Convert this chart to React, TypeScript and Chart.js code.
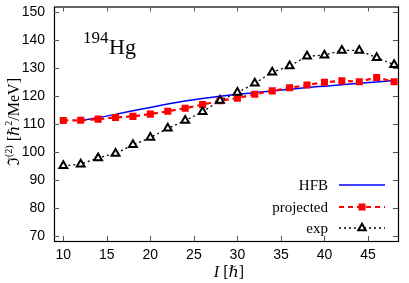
import React, { useEffect, useRef } from "react";
import { Chart, registerables } from "chart.js";

Chart.register(...registerables);

const spins = [10, 12, 14, 16, 18, 20, 22, 24, 26, 28, 30, 32, 34, 36, 38, 40, 42, 44, 46, 48];
const projected = [111.3, 111.4, 111.8, 112.4, 112.8, 113.6, 114.6, 115.7, 117.0, 118.4, 119.3, 120.7, 121.9, 123.0, 124.0, 125.0, 125.5, 125.2, 126.7, 125.2];
const expValues = [95.1, 95.7, 97.9, 99.5, 102.6, 105.2, 108.5, 111.3, 114.4, 118.5, 121.3, 124.6, 128.6, 130.8, 134.3, 134.7, 136.4, 136.4, 133.8, 131.3];
const hfbSpins = [12, 14, 16, 18, 20, 22, 24, 26, 28, 30, 32, 34, 36, 38, 40, 42, 44, 46, 48];
const hfbValues = [111.3, 112.3, 113.5, 114.8, 116.0, 117.2, 118.3, 119.2, 120.0, 120.7, 121.3, 121.9, 122.5, 123.1, 123.6, 124.1, 124.6, 125.1, 125.6];
const xTicks = [10, 15, 20, 25, 30, 35, 40, 45];
const yTicks = [70, 80, 90, 100, 110, 120, 130, 140, 150];
const legendLabels = ["HFB", "projected", "exp"];

const SERIF = "'Liberation Serif', 'DejaVu Serif', serif";
const SANS = "'Liberation Sans', Arial, sans-serif";

function drawTriangle(ctx: CanvasRenderingContext2D, x: number, y: number, r: number) {
  ctx.beginPath();
  ctx.moveTo(x, y - r);
  ctx.lineTo(x + r * 0.866, y + r * 0.5);
  ctx.lineTo(x - r * 0.866, y + r * 0.5);
  ctx.closePath();
  ctx.fillStyle = "#ffffff";
  ctx.fill();
  ctx.lineWidth = 2;
  ctx.strokeStyle = "#000";
  ctx.setLineDash([]);
  ctx.stroke();
}

const decor = {
  id: "decor",
  afterDraw(chart: any) {
    const { ctx, chartArea: a, scales } = chart;
    const xs = scales.x;
    const ys = scales.y;
    ctx.save();
    // frame
    ctx.strokeStyle = "#000";
    ctx.lineWidth = 1.2;
    ctx.setLineDash([]);
    ctx.strokeRect(a.left + 0.5, a.top + 0.5, a.right - a.left, a.bottom - a.top);
    // inward ticks
    ctx.lineWidth = 1;
    ctx.strokeStyle = "#555";
    ctx.beginPath();
    for (const v of xTicks) {
      const px = Math.round(xs.getPixelForValue(v)) + 0.5;
      ctx.moveTo(px, a.bottom);
      ctx.lineTo(px, a.bottom - 5);
      ctx.moveTo(px, a.top);
      ctx.lineTo(px, a.top + 5);
    }
    for (const v of yTicks) {
      const py = Math.round(ys.getPixelForValue(v)) + 0.5;
      ctx.moveTo(a.left, py);
      ctx.lineTo(a.left + 5, py);
      ctx.moveTo(a.right, py);
      ctx.lineTo(a.right - 5, py);
    }
    ctx.stroke();

    // legend
    ctx.fillStyle = "#000";
    ctx.font = `15px ${SERIF}`;
    ctx.textAlign = "right";
    ctx.textBaseline = "middle";
    const lx0 = 339, lx1 = 385, lt = 328;
    const rows = [185, 207, 228];
    legendLabels.forEach((t, i) => ctx.fillText(t, lt, rows[i] + 1));
    // HFB
    ctx.strokeStyle = "#0000ff";
    ctx.lineWidth = 1.5;
    ctx.setLineDash([]);
    ctx.beginPath();
    ctx.moveTo(lx0, rows[0]);
    ctx.lineTo(lx1, rows[0]);
    ctx.stroke();
    // projected
    ctx.strokeStyle = "#ff0000";
    ctx.lineWidth = 2.2;
    ctx.setLineDash([5, 4]);
    ctx.beginPath();
    ctx.moveTo(lx0, rows[1]);
    ctx.lineTo(lx1, rows[1]);
    ctx.stroke();
    ctx.setLineDash([]);
    ctx.fillStyle = "#ff0000";
    ctx.fillRect(362 - 3.5, rows[1] - 3.5, 7, 7);
    // exp
    ctx.strokeStyle = "#000";
    ctx.lineWidth = 1.3;
    ctx.setLineDash([2, 3]);
    ctx.beginPath();
    ctx.moveTo(lx0, rows[2]);
    ctx.lineTo(lx1, rows[2]);
    ctx.stroke();
    drawTriangle(ctx, 362, rows[2], 4.3);

    // nucleus label
    ctx.fillStyle = "#000";
    ctx.textAlign = "left";
    ctx.textBaseline = "alphabetic";
    ctx.font = `17px ${SERIF}`;
    ctx.fillText("194", 83, 43);
    ctx.font = `22px ${SERIF}`;
    ctx.fillText("Hg", 109, 54);

    // x axis title
    ctx.font = `italic 16px ${SERIF}`;
    const wI = ctx.measureText("I").width;
    ctx.font = `16px ${SERIF}`;
    const wRest = ctx.measureText(" [ℏ]").width;
    const xStart = 229 - (wI + wRest) / 2;
    ctx.font = `italic 16px ${SERIF}`;
    ctx.fillText("I", xStart, 277);
    ctx.font = `16px ${SERIF}`;
    ctx.fillText(" [ℏ]", xStart + wI, 277);

    // y axis title (rotated)
    const parts: [string, number, number][] = [
      ["ℑ", 16, 0],
      ["(2)", 10, -7],
      [" [ℏ", 16, 0],
      ["2", 10, -7],
      ["/MeV]", 16, 0],
    ];
    let total = 0;
    const widths: number[] = [];
    for (const [t, s] of parts) {
      ctx.font = `${s}px ${SERIF}`;
      const w = ctx.measureText(t).width;
      widths.push(w);
      total += w;
    }
    ctx.translate(19, 122);
    ctx.rotate(-Math.PI / 2);
    let cx = -total / 2;
    parts.forEach(([t, s, dy], i) => {
      ctx.font = `${s}px ${SERIF}`;
      ctx.fillText(t, cx, dy);
      cx += widths[i];
    });
    ctx.restore();
  },
};

export default function App() {
  const ref = useRef<HTMLCanvasElement | null>(null);
  useEffect(() => {
    if (!ref.current) return;
    const chart = new Chart(ref.current, {
      type: "line",
      data: {
        datasets: [
          {
            label: "exp",
            data: spins.map((x, i) => ({ x, y: expValues[i] })),
            borderColor: "#000",
            borderWidth: 1.3,
            borderDash: [2, 3],
            pointStyle: "triangle",
            pointRadius: 4.5,
            pointBorderWidth: 2,
            pointBackgroundColor: "#ffffff",
            pointBorderColor: "#000",
            order: 0,
          },
          {
            label: "projected",
            data: spins.map((x, i) => ({ x, y: projected[i] })),
            borderColor: "#ff0000",
            borderWidth: 2.2,
            borderDash: [5, 4],
            pointStyle: "rect",
            pointRadius: 5,
            pointBorderWidth: 0,
            pointBackgroundColor: "#ff0000",
            pointBorderColor: "#ff0000",
            order: 1,
          },
          {
            label: "HFB",
            data: hfbSpins.map((x, i) => ({ x, y: hfbValues[i] })),
            borderColor: "#0000ff",
            borderWidth: 1.5,
            pointRadius: 0,
            cubicInterpolationMode: "monotone",
            order: 2,
          },
        ],
      },
      options: {
        responsive: false,
        animation: false,
        layout: { padding: { left: 0, right: 11, top: 4, bottom: 0 } },
        plugins: { legend: { display: false }, tooltip: { enabled: false } },
        scales: {
          x: {
            type: "linear",
            min: 8.93,
            max: 48.45,
            grid: { display: false, drawTicks: false },
            border: { display: false },
            ticks: { font: { family: SANS, size: 14 }, color: "#000", padding: 6, maxRotation: 0 },
            afterBuildTicks: (s: any) => {
              s.ticks = xTicks.map((v) => ({ value: v }));
            },
            afterFit: (s: any) => {
              s.height = 42;
              s.paddingLeft = 0;
              s.paddingRight = 0;
            },
          },
          y: {
            type: "linear",
            min: 68.2,
            max: 152.1,
            grid: { display: false, drawTicks: false },
            border: { display: false },
            ticks: { font: { family: SANS, size: 14 }, color: "#000", padding: 9 },
            afterBuildTicks: (s: any) => {
              s.ticks = yTicks.map((v) => ({ value: v }));
            },
            afterFit: (s: any) => {
              s.width = 54;
              s.paddingTop = 0;
              s.paddingBottom = 0;
            },
          },
        },
      },
      plugins: [decor],
    } as any);
    return () => chart.destroy();
  }, []);
  return (
    <div style={{ position: "absolute", left: 0, top: 0, width: 409, height: 283, background: "#fff" }}>
      <canvas ref={ref} width={409} height={283} />
    </div>
  );
}
